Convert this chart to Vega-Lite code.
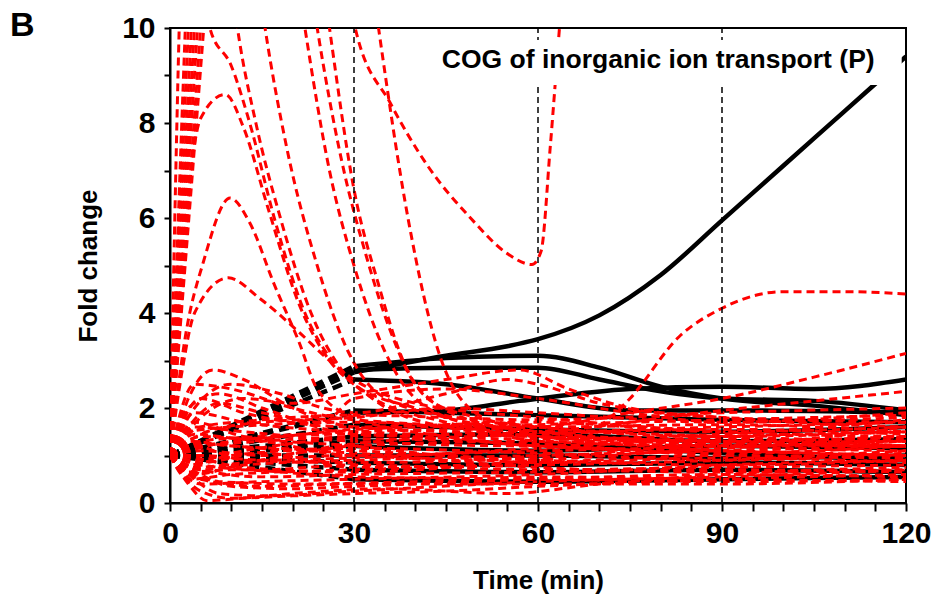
{
"$schema": "https://vega.github.io/schema/vega-lite/v6.json",
"width": 736, "height": 475,
"autosize": {"type": "none"},
"padding": {"left": 170, "top": 28, "right": 26, "bottom": 99},
"background": "white",
"config": {"view": {"stroke": "black", "strokeWidth": 2}, "font": "Liberation Sans",
 "axisX": {"values": [0,5,10,15,20,25,30,35,40,45,50,55,60,65,70,75,80,85,90,95,100,105,110,115,120],
    "labelExpr": "datum.value % 30 === 0 ? datum.label : ''", "labelOverlap": false, "labelFlush": false,
    "tickSize": 8, "grid": false, "domainColor": "black", "domainWidth": 2, "tickColor": "black", "tickWidth": 2,
    "labelFont": "Liberation Sans", "labelFontWeight": "bold", "labelFontSize": 30, "labelColor": "black", "labelPadding": 7,
    "titleFont": "Liberation Sans", "titleFontWeight": "bold", "titleFontSize": 26, "titleColor": "black", "titlePadding": 19},
 "axisY": {"values": [0,0.5,1,1.5,2,2.5,3,3.5,4,4.5,5,5.5,6,6.5,7,7.5,8,8.5,9,9.5,10], "format": "d",
    "labelExpr": "datum.value % 2 === 0 ? datum.label : ''", "labelOverlap": false, "labelFlush": false,
    "tickSize": 6, "grid": false, "domainColor": "black", "domainWidth": 2, "tickColor": "black", "tickWidth": 2,
    "labelFont": "Liberation Sans", "labelFontWeight": "bold", "labelFontSize": 30, "labelColor": "black", "labelPadding": 9,
    "titleFont": "Liberation Sans", "titleFontWeight": "bold", "titleFontSize": 26, "titleColor": "black", "titlePadding": 20}},
"datasets": {
"red": [
{"s":"r01","t":0,"v":1},{"s":"r01","t":1.5,"v":10},{"s":"r01","t":3,"v":16},{"s":"r01","t":6.5,"v":10},{"s":"r01","t":10,"v":9.2},{"s":"r01","t":13,"v":8.0},{"s":"r01","t":17,"v":6.0},{"s":"r01","t":22,"v":4.0},{"s":"r01","t":27,"v":2.9},{"s":"r01","t":32,"v":2.3},{"s":"r01","t":45,"v":1.7},{"s":"r01","t":60,"v":1.4},{"s":"r01","t":90,"v":1.3},{"s":"r01","t":120,"v":1.2},
{"s":"r02","t":0,"v":1},{"s":"r02","t":2.5,"v":10},{"s":"r02","t":5,"v":18},{"s":"r02","t":11,"v":10},{"s":"r02","t":14,"v":8.0},{"s":"r02","t":18,"v":6.0},{"s":"r02","t":23,"v":4.0},{"s":"r02","t":28,"v":2.8},{"s":"r02","t":33,"v":2.2},{"s":"r02","t":45,"v":1.6},{"s":"r02","t":60,"v":1.4},{"s":"r02","t":90,"v":1.25},{"s":"r02","t":120,"v":1.2},
{"s":"r03","t":0,"v":1},{"s":"r03","t":3,"v":10},{"s":"r03","t":7,"v":20},{"s":"r03","t":15.5,"v":10},{"s":"r03","t":19,"v":7.5},{"s":"r03","t":24,"v":5.0},{"s":"r03","t":29,"v":3.2},{"s":"r03","t":34,"v":2.3},{"s":"r03","t":45,"v":1.8},{"s":"r03","t":60,"v":1.5},{"s":"r03","t":90,"v":1.2},{"s":"r03","t":120,"v":1.1},
{"s":"r04","t":0,"v":1},{"s":"r04","t":3.5,"v":10},{"s":"r04","t":9,"v":24},{"s":"r04","t":22,"v":10},{"s":"r04","t":26,"v":7.0},{"s":"r04","t":30,"v":5.0},{"s":"r04","t":35,"v":3.2},{"s":"r04","t":40,"v":2.2},{"s":"r04","t":50,"v":1.6},{"s":"r04","t":60,"v":1.3},{"s":"r04","t":90,"v":1.2},{"s":"r04","t":120,"v":1.3},
{"s":"r05","t":0,"v":1},{"s":"r05","t":4,"v":10},{"s":"r05","t":11,"v":25},{"s":"r05","t":24,"v":10},{"s":"r05","t":28,"v":7.2},{"s":"r05","t":32,"v":5.2},{"s":"r05","t":36,"v":3.6},{"s":"r05","t":40,"v":2.5},{"s":"r05","t":50,"v":1.7},{"s":"r05","t":60,"v":1.5},{"s":"r05","t":90,"v":1.3},{"s":"r05","t":120,"v":1.4},
{"s":"r06","t":0,"v":1},{"s":"r06","t":4.5,"v":10},{"s":"r06","t":13,"v":25},{"s":"r06","t":26,"v":10},{"s":"r06","t":30,"v":6.6},{"s":"r06","t":34,"v":4.6},{"s":"r06","t":38,"v":3.0},{"s":"r06","t":42,"v":2.2},{"s":"r06","t":50,"v":1.8},{"s":"r06","t":60,"v":1.6},{"s":"r06","t":90,"v":1.4},{"s":"r06","t":120,"v":1.5},
{"s":"r07","t":0,"v":1},{"s":"r07","t":5,"v":10},{"s":"r07","t":15,"v":30},{"s":"r07","t":30.2,"v":10},{"s":"r07","t":36,"v":8.4},{"s":"r07","t":42,"v":7.1},{"s":"r07","t":49,"v":6.0},{"s":"r07","t":55,"v":5.25},{"s":"r07","t":59,"v":5.02},{"s":"r07","t":60.5,"v":5.3},{"s":"r07","t":62,"v":7.5},{"s":"r07","t":63.5,"v":10},{"s":"r07","t":66,"v":14},
{"s":"r08","t":0,"v":1},{"s":"r08","t":5.5,"v":10},{"s":"r08","t":17,"v":30},{"s":"r08","t":34,"v":10},{"s":"r08","t":38.8,"v":6.0},{"s":"r08","t":44,"v":3.1},{"s":"r08","t":48,"v":2.1},{"s":"r08","t":55,"v":1.6},{"s":"r08","t":60,"v":1.4},{"s":"r08","t":90,"v":1.2},{"s":"r08","t":120,"v":1.2},
{"s":"r09","t":0,"v":1},{"s":"r09","t":2,"v":5},{"s":"r09","t":5,"v":8.1},{"s":"r09","t":9,"v":8.6},{"s":"r09","t":12,"v":7.9},{"s":"r09","t":16,"v":6.2},{"s":"r09","t":21,"v":4.2},{"s":"r09","t":26,"v":3.0},{"s":"r09","t":30,"v":2.5},{"s":"r09","t":40,"v":2.0},{"s":"r09","t":60,"v":1.6},{"s":"r09","t":90,"v":1.4},{"s":"r09","t":120,"v":1.3},
{"s":"r10","t":0,"v":1},{"s":"r10","t":2.5,"v":3.5},{"s":"r10","t":5.5,"v":5.1},{"s":"r10","t":9.8,"v":6.42},{"s":"r10","t":13,"v":5.9},{"s":"r10","t":17,"v":4.6},{"s":"r10","t":21,"v":3.4},{"s":"r10","t":24,"v":2.4},{"s":"r10","t":30,"v":1.8},{"s":"r10","t":45,"v":1.4},{"s":"r10","t":60,"v":1.2},{"s":"r10","t":90,"v":1.1},{"s":"r10","t":120,"v":1.0},
{"s":"r11","t":0,"v":1},{"s":"r11","t":2,"v":2.8},{"s":"r11","t":4,"v":4.0},{"s":"r11","t":9.5,"v":4.74},{"s":"r11","t":14.7,"v":4.3},{"s":"r11","t":21,"v":3.6},{"s":"r11","t":26,"v":3.0},{"s":"r11","t":30,"v":2.6},{"s":"r11","t":40,"v":2.1},{"s":"r11","t":60,"v":1.8},{"s":"r11","t":90,"v":1.5},{"s":"r11","t":120,"v":1.4},
{"s":"r12","t":0,"v":1},{"s":"r12","t":3,"v":2.2},{"s":"r12","t":7,"v":2.8},{"s":"r12","t":12,"v":2.6},{"s":"r12","t":20,"v":2.0},{"s":"r12","t":30,"v":1.6},{"s":"r12","t":45,"v":1.5},{"s":"r12","t":60,"v":1.4},{"s":"r12","t":90,"v":1.3},{"s":"r12","t":120,"v":1.2},
{"s":"r13","t":0,"v":1},{"s":"r13","t":4,"v":2.0},{"s":"r13","t":10,"v":2.5},{"s":"r13","t":18,"v":2.3},{"s":"r13","t":25,"v":2.0},{"s":"r13","t":30,"v":1.9},{"s":"r13","t":45,"v":2.3},{"s":"r13","t":55,"v":2.6},{"s":"r13","t":60,"v":2.5},{"s":"r13","t":70,"v":2.1},{"s":"r13","t":90,"v":1.8},{"s":"r13","t":120,"v":1.7},
{"s":"r14","t":0,"v":1},{"s":"r14","t":5,"v":1.8},{"s":"r14","t":12,"v":2.2},{"s":"r14","t":20,"v":2.1},{"s":"r14","t":30,"v":2.3},{"s":"r14","t":45,"v":2.6},{"s":"r14","t":57,"v":2.8},{"s":"r14","t":65,"v":2.4},{"s":"r14","t":75,"v":2.0},{"s":"r14","t":90,"v":1.8},{"s":"r14","t":120,"v":1.6},
{"s":"r15","t":0,"v":1},{"s":"r15","t":3,"v":1.6},{"s":"r15","t":8,"v":2.1},{"s":"r15","t":15,"v":1.9},{"s":"r15","t":25,"v":1.7},{"s":"r15","t":30,"v":2.2},{"s":"r15","t":45,"v":2.4},{"s":"r15","t":60,"v":2.2},{"s":"r15","t":75,"v":1.9},{"s":"r15","t":90,"v":1.7},{"s":"r15","t":120,"v":1.9},
{"s":"r16","t":0,"v":1},{"s":"r16","t":6,"v":1.5},{"s":"r16","t":15,"v":1.7},{"s":"r16","t":30,"v":1.8},{"s":"r16","t":45,"v":2.0},{"s":"r16","t":60,"v":1.9},{"s":"r16","t":90,"v":1.7},{"s":"r16","t":120,"v":1.8},
{"s":"r17","t":0,"v":1},{"s":"r17","t":5,"v":0.7},{"s":"r17","t":15,"v":0.9},{"s":"r17","t":30,"v":1.0},{"s":"r17","t":45,"v":0.9},{"s":"r17","t":60,"v":1.0},{"s":"r17","t":66,"v":1.2},{"s":"r17","t":70,"v":1.6},{"s":"r17","t":75,"v":2.2},{"s":"r17","t":83,"v":3.5},{"s":"r17","t":90,"v":4.1},{"s":"r17","t":100,"v":4.45},{"s":"r17","t":110,"v":4.45},{"s":"r17","t":120,"v":4.4},
{"s":"r18","t":0,"v":1},{"s":"r18","t":5,"v":1.3},{"s":"r18","t":15,"v":1.4},{"s":"r18","t":30,"v":1.5},{"s":"r18","t":60,"v":1.6},{"s":"r18","t":75,"v":1.9},{"s":"r18","t":90,"v":2.2},{"s":"r18","t":105,"v":2.65},{"s":"r18","t":120,"v":3.15},
{"s":"r19","t":0,"v":1},{"s":"r19","t":5,"v":1.2},{"s":"r19","t":15,"v":1.3},{"s":"r19","t":30,"v":1.4},{"s":"r19","t":60,"v":1.5},{"s":"r19","t":90,"v":1.95},{"s":"r19","t":105,"v":2.15},{"s":"r19","t":120,"v":2.35},
{"s":"r20","t":0,"v":1},{"s":"r20","t":3,"v":0.4},{"s":"r20","t":6,"v":0.05},{"s":"r20","t":12,"v":0.1},{"s":"r20","t":20,"v":0.15},{"s":"r20","t":30,"v":0.2},{"s":"r20","t":45,"v":0.25},{"s":"r20","t":60,"v":0.35},{"s":"r20","t":90,"v":0.5},{"s":"r20","t":120,"v":0.6},
{"s":"r21","t":0,"v":1},{"s":"r21","t":4,"v":0.5},{"s":"r21","t":8,"v":0.2},{"s":"r21","t":15,"v":0.15},{"s":"r21","t":30,"v":0.25},{"s":"r21","t":60,"v":0.45},{"s":"r21","t":90,"v":0.55},{"s":"r21","t":120,"v":0.7},
{"s":"r22","t":0,"v":1},{"s":"r22","t":5,"v":0.6},{"s":"r22","t":10,"v":0.35},{"s":"r22","t":20,"v":0.3},{"s":"r22","t":30,"v":0.35},{"s":"r22","t":60,"v":0.5},{"s":"r22","t":90,"v":0.6},{"s":"r22","t":120,"v":0.55},
{"s":"r23","t":0,"v":1},{"s":"r23","t":3,"v":0.7},{"s":"r23","t":8,"v":0.45},{"s":"r23","t":20,"v":0.4},{"s":"r23","t":40,"v":0.45},{"s":"r23","t":60,"v":0.55},{"s":"r23","t":90,"v":0.5},{"s":"r23","t":120,"v":0.45},
{"s":"r24","t":0,"v":1},{"s":"r24","t":2,"v":0.6},{"s":"r24","t":5,"v":0.25},{"s":"r24","t":10,"v":0.1},{"s":"r24","t":20,"v":0.2},{"s":"r24","t":35,"v":0.3},{"s":"r24","t":55,"v":0.2},{"s":"r24","t":70,"v":0.4},{"s":"r24","t":90,"v":0.6},{"s":"r24","t":120,"v":0.75},
{"s":"r25","t":0,"v":1},{"s":"r25","t":4,"v":1.6},{"s":"r25","t":12,"v":1.5},{"s":"r25","t":30,"v":1.3},{"s":"r25","t":60,"v":1.2},{"s":"r25","t":90,"v":1.4},{"s":"r25","t":120,"v":1.5},
{"s":"r26","t":0,"v":1},{"s":"r26","t":4,"v":0.6},{"s":"r26","t":12,"v":0.8},{"s":"r26","t":30,"v":0.9},{"s":"r26","t":60,"v":1.0},{"s":"r26","t":90,"v":1.1},{"s":"r26","t":120,"v":1.2},
{"s":"r27","t":0,"v":1},{"s":"r27","t":3,"v":1.3},{"s":"r27","t":10,"v":1.2},{"s":"r27","t":30,"v":1.1},{"s":"r27","t":60,"v":0.9},{"s":"r27","t":90,"v":0.8},{"s":"r27","t":120,"v":0.9},
{"s":"r28","t":0,"v":1},{"s":"r28","t":5,"v":0.8},{"s":"r28","t":15,"v":0.7},{"s":"r28","t":30,"v":0.8},{"s":"r28","t":60,"v":0.7},{"s":"r28","t":90,"v":0.75},{"s":"r28","t":120,"v":0.8},
{"s":"r29","t":0,"v":1},{"s":"r29","t":4,"v":1.9},{"s":"r29","t":12,"v":1.7},{"s":"r29","t":30,"v":1.5},{"s":"r29","t":60,"v":1.4},{"s":"r29","t":90,"v":1.3},{"s":"r29","t":120,"v":1.4},
{"s":"r30","t":0,"v":1},{"s":"r30","t":5,"v":1.1},{"s":"r30","t":15,"v":1.0},{"s":"r30","t":30,"v":1.2},{"s":"r30","t":60,"v":1.3},{"s":"r30","t":90,"v":1.1},{"s":"r30","t":120,"v":1.0},
{"s":"r31","t":0,"v":1},{"s":"r31","t":3,"v":0.5},{"s":"r31","t":10,"v":0.6},{"s":"r31","t":30,"v":0.7},{"s":"r31","t":60,"v":0.8},{"s":"r31","t":90,"v":0.9},{"s":"r31","t":120,"v":1.1},
{"s":"r32","t":0,"v":1},{"s":"r32","t":5,"v":1.4},{"s":"r32","t":15,"v":1.3},{"s":"r32","t":30,"v":1.0},{"s":"r32","t":60,"v":1.1},{"s":"r32","t":90,"v":1.2},{"s":"r32","t":120,"v":1.6},
{"s":"r33","t":0,"v":1},{"s":"r33","t":4,"v":0.9},{"s":"r33","t":12,"v":1.1},{"s":"r33","t":30,"v":1.35},{"s":"r33","t":60,"v":1.25},{"s":"r33","t":90,"v":1.0},{"s":"r33","t":120,"v":0.95},
{"s":"r34","t":0,"v":1},{"s":"r34","t":3,"v":1.5},{"s":"r34","t":10,"v":1.6},{"s":"r34","t":30,"v":1.7},{"s":"r34","t":60,"v":1.5},{"s":"r34","t":90,"v":1.6},{"s":"r34","t":120,"v":1.7},
{"s":"r35","t":0,"v":1},{"s":"r35","t":5,"v":0.7},{"s":"r35","t":15,"v":0.55},{"s":"r35","t":30,"v":0.6},{"s":"r35","t":60,"v":0.65},{"s":"r35","t":90,"v":0.7},{"s":"r35","t":120,"v":0.65},
{"s":"r36","t":0,"v":1},{"s":"r36","t":4,"v":1.2},{"s":"r36","t":12,"v":0.9},{"s":"r36","t":30,"v":0.85},{"s":"r36","t":60,"v":0.95},{"s":"r36","t":90,"v":1.25},{"s":"r36","t":120,"v":1.3},
{"s":"r37","t":0,"v":1},{"s":"r37","t":5,"v":2.2},{"s":"r37","t":12,"v":1.9},{"s":"r37","t":30,"v":1.6},{"s":"r37","t":60,"v":1.7},{"s":"r37","t":90,"v":1.5},{"s":"r37","t":120,"v":1.6},
{"s":"r38","t":0,"v":1},{"s":"r38","t":3,"v":0.8},{"s":"r38","t":10,"v":1.0},{"s":"r38","t":30,"v":1.15},{"s":"r38","t":60,"v":1.05},{"s":"r38","t":90,"v":0.9},{"s":"r38","t":120,"v":1.05},
{"s":"r39","t":0,"v":1},{"s":"r39","t":5,"v":1.0},{"s":"r39","t":15,"v":0.9},{"s":"r39","t":30,"v":0.95},{"s":"r39","t":60,"v":1.15},{"s":"r39","t":90,"v":1.35},{"s":"r39","t":120,"v":1.2},
{"s":"r40","t":0,"v":1},{"s":"r40","t":4,"v":1.7},{"s":"r40","t":12,"v":1.4},{"s":"r40","t":30,"v":1.2},{"s":"r40","t":60,"v":0.85},{"s":"r40","t":90,"v":0.95},{"s":"r40","t":120,"v":0.85},
{"s":"r41","t":0,"v":1},{"s":"r41","t":5,"v":0.4},{"s":"r41","t":15,"v":0.45},{"s":"r41","t":30,"v":0.5},{"s":"r41","t":60,"v":0.6},{"s":"r41","t":90,"v":0.8},{"s":"r41","t":120,"v":0.9},
{"s":"r42","t":0,"v":1},{"s":"r42","t":3,"v":2.0},{"s":"r42","t":8,"v":2.3},{"s":"r42","t":15,"v":2.0},{"s":"r42","t":30,"v":1.45},{"s":"r42","t":60,"v":1.35},{"s":"r42","t":90,"v":1.45},{"s":"r42","t":120,"v":1.75},
{"s":"r43","t":0,"v":1},{"s":"r43","t":5,"v":1.25},{"s":"r43","t":15,"v":1.15},{"s":"r43","t":30,"v":1.05},{"s":"r43","t":60,"v":0.75},{"s":"r43","t":90,"v":0.65},{"s":"r43","t":120,"v":0.7},
{"s":"r44","t":0,"v":1},{"s":"r44","t":4,"v":0.75},{"s":"r44","t":12,"v":0.85},{"s":"r44","t":30,"v":1.25},{"s":"r44","t":60,"v":1.45},{"s":"r44","t":90,"v":1.55},{"s":"r44","t":120,"v":1.45},
{"s":"r45","t":0,"v":1},{"s":"r45","t":4,"v":1.45},{"s":"r45","t":12,"v":1.35},{"s":"r45","t":30,"v":1.55},{"s":"r45","t":60,"v":1.65},{"s":"r45","t":90,"v":1.75},{"s":"r45","t":120,"v":1.85},
{"s":"r46","t":0,"v":1},{"s":"r46","t":3,"v":0.65},{"s":"r46","t":10,"v":0.7},{"s":"r46","t":30,"v":0.55},{"s":"r46","t":60,"v":0.5},{"s":"r46","t":90,"v":0.45},{"s":"r46","t":120,"v":0.5},
{"s":"r47","t":0,"v":1},{"s":"r47","t":5,"v":1.6},{"s":"r47","t":15,"v":1.75},{"s":"r47","t":30,"v":1.85},{"s":"r47","t":60,"v":1.75},{"s":"r47","t":90,"v":1.9},{"s":"r47","t":120,"v":2.0},
{"s":"r48","t":0,"v":1},{"s":"r48","t":4,"v":0.95},{"s":"r48","t":12,"v":0.75},{"s":"r48","t":30,"v":0.65},{"s":"r48","t":60,"v":0.9},{"s":"r48","t":90,"v":1.15},{"s":"r48","t":120,"v":1.35},
{"s":"r49","t":0,"v":1},{"s":"r49","t":3,"v":1.1},{"s":"r49","t":10,"v":1.3},{"s":"r49","t":30,"v":1.45},{"s":"r49","t":60,"v":1.2},{"s":"r49","t":90,"v":1.05},{"s":"r49","t":120,"v":1.2},
{"s":"r50","t":0,"v":1},{"s":"r50","t":5,"v":0.5},{"s":"r50","t":15,"v":0.35},{"s":"r50","t":30,"v":0.4},{"s":"r50","t":60,"v":0.4},{"s":"r50","t":90,"v":0.4},{"s":"r50","t":120,"v":0.5},
{"s":"r51","t":0,"v":1},{"s":"r51","t":4,"v":2.5},{"s":"r51","t":10,"v":2.4},{"s":"r51","t":20,"v":2.0},{"s":"r51","t":30,"v":1.75},{"s":"r51","t":60,"v":1.6},{"s":"r51","t":90,"v":1.65},{"s":"r51","t":120,"v":1.5},
{"s":"r52","t":0,"v":1},{"s":"r52","t":5,"v":0.85},{"s":"r52","t":15,"v":1.05},{"s":"r52","t":30,"v":0.75},{"s":"r52","t":60,"v":0.85},{"s":"r52","t":90,"v":1.0},{"s":"r52","t":120,"v":0.95}
],
"black": [
{"s":"k01","t":0,"v":1},{"s":"k01","t":30,"v":2.75},{"s":"k01","t":45,"v":3.1},{"s":"k01","t":55,"v":3.3},{"s":"k01","t":60,"v":3.45},{"s":"k01","t":70,"v":3.95},{"s":"k01","t":80,"v":4.8},{"s":"k01","t":90,"v":5.95},{"s":"k01","t":100,"v":7.1},{"s":"k01","t":110,"v":8.25},{"s":"k01","t":120,"v":9.4},
{"s":"k02","t":0,"v":1},{"s":"k02","t":30,"v":2.88},{"s":"k02","t":45,"v":3.05},{"s":"k02","t":60,"v":3.1},{"s":"k02","t":70,"v":2.85},{"s":"k02","t":80,"v":2.45},{"s":"k02","t":90,"v":2.2},{"s":"k02","t":105,"v":2.05},{"s":"k02","t":120,"v":1.85},
{"s":"k03","t":0,"v":1},{"s":"k03","t":30,"v":2.8},{"s":"k03","t":45,"v":2.85},{"s":"k03","t":60,"v":2.85},{"s":"k03","t":70,"v":2.6},{"s":"k03","t":80,"v":2.35},{"s":"k03","t":90,"v":2.2},{"s":"k03","t":105,"v":2.15},{"s":"k03","t":120,"v":1.95},
{"s":"k04","t":0,"v":1},{"s":"k04","t":30,"v":2.6},{"s":"k04","t":45,"v":2.5},{"s":"k04","t":60,"v":2.2},{"s":"k04","t":75,"v":1.95},{"s":"k04","t":90,"v":1.95},{"s":"k04","t":120,"v":1.9},
{"s":"k05","t":0,"v":1},{"s":"k05","t":30,"v":1.9},{"s":"k05","t":45,"v":1.95},{"s":"k05","t":57,"v":2.15},{"s":"k05","t":75,"v":2.4},{"s":"k05","t":90,"v":2.45},{"s":"k05","t":105,"v":2.4},{"s":"k05","t":120,"v":2.6},
{"s":"k06","t":0,"v":1},{"s":"k06","t":30,"v":1.95},{"s":"k06","t":60,"v":1.85},{"s":"k06","t":90,"v":1.75},{"s":"k06","t":120,"v":1.7},
{"s":"k07","t":0,"v":1},{"s":"k07","t":30,"v":1.65},{"s":"k07","t":60,"v":1.55},{"s":"k07","t":90,"v":1.5},{"s":"k07","t":120,"v":1.6},
{"s":"k08","t":0,"v":1},{"s":"k08","t":30,"v":1.4},{"s":"k08","t":60,"v":1.45},{"s":"k08","t":90,"v":1.3},{"s":"k08","t":120,"v":1.35},
{"s":"k09","t":0,"v":1},{"s":"k09","t":30,"v":1.2},{"s":"k09","t":60,"v":1.1},{"s":"k09","t":90,"v":1.2},{"s":"k09","t":120,"v":1.15},
{"s":"k10","t":0,"v":1},{"s":"k10","t":30,"v":1.0},{"s":"k10","t":60,"v":1.0},{"s":"k10","t":90,"v":0.95},{"s":"k10","t":120,"v":1.0},
{"s":"k11","t":0,"v":1},{"s":"k11","t":30,"v":0.85},{"s":"k11","t":60,"v":0.8},{"s":"k11","t":90,"v":0.85},{"s":"k11","t":120,"v":0.8},
{"s":"k12","t":0,"v":1},{"s":"k12","t":30,"v":0.7},{"s":"k12","t":60,"v":0.65},{"s":"k12","t":90,"v":0.7},{"s":"k12","t":120,"v":0.65},
{"s":"k13","t":0,"v":1},{"s":"k13","t":30,"v":0.5},{"s":"k13","t":60,"v":0.45},{"s":"k13","t":90,"v":0.5},{"s":"k13","t":120,"v":0.55},
{"s":"k14","t":0,"v":1},{"s":"k14","t":30,"v":1.3},{"s":"k14","t":60,"v":1.25},{"s":"k14","t":90,"v":1.05},{"s":"k14","t":120,"v":0.9}
]
},
"layer": [
{"data": {"name": "black"}, "transform": [{"filter": "datum.t <= 30"}],
 "mark": {"type": "line", "stroke": "black", "strokeWidth": 4.5, "strokeDash": [10, 6], "clip": true},
 "encoding": {
  "x": {"field": "t", "type": "quantitative", "scale": {"domain": [0, 120], "nice": false, "zero": false}, "title": "Time (min)"},
  "y": {"field": "v", "type": "quantitative", "scale": {"domain": [0, 10], "nice": false, "zero": false}, "title": "Fold change"},
  "detail": {"field": "s"}}},
{"data": {"name": "black"}, "transform": [{"filter": "datum.t >= 30"}],
 "mark": {"type": "line", "stroke": "black", "strokeWidth": 4.5, "interpolate": "monotone", "clip": true},
 "encoding": {
  "x": {"field": "t", "type": "quantitative", "scale": {"domain": [0, 120], "nice": false, "zero": false}, "title": "Time (min)"},
  "y": {"field": "v", "type": "quantitative", "scale": {"domain": [0, 10], "nice": false, "zero": false}, "title": "Fold change"},
  "detail": {"field": "s"}}},
{"data": {"name": "red"},
 "mark": {"type": "line", "stroke": "#ff0000", "strokeWidth": 3, "strokeDash": [8, 5], "interpolate": "monotone", "clip": true},
 "encoding": {
  "x": {"field": "t", "type": "quantitative", "scale": {"domain": [0, 120], "nice": false, "zero": false}, "title": "Time (min)"},
  "y": {"field": "v", "type": "quantitative", "scale": {"domain": [0, 10], "nice": false, "zero": false}, "title": "Fold change"},
  "detail": {"field": "s"}}},
{"data": {"values": [{"t": 30}, {"t": 60}, {"t": 90}]},
 "mark": {"type": "rule", "stroke": "black", "strokeWidth": 1.5, "strokeDash": [6, 4]},
 "encoding": {
  "x": {"field": "t", "type": "quantitative", "scale": {"domain": [0, 120], "nice": false, "zero": false}, "title": "Time (min)"},
  "y": {"datum": 0, "type": "quantitative", "title": "Fold change"}, "y2": {"datum": 10}}},
{"data": {"values": [{"a": 1}]},
 "mark": {"type": "rect", "fill": "white", "strokeWidth": 0},
 "encoding": {
  "x": {"datum": 43, "type": "quantitative", "title": "Time (min)"}, "x2": {"datum": 119.3},
  "y": {"datum": 8.8, "type": "quantitative", "title": "Fold change"}, "y2": {"datum": 9.75}}},
{"data": {"values": [{"label": "COG of inorganic ion transport (P)"}]},
 "mark": {"type": "text", "font": "Liberation Sans", "fontWeight": "bold", "fontSize": 26.5, "color": "black", "align": "center", "baseline": "middle"},
 "encoding": {
  "x": {"datum": 79.6, "type": "quantitative", "title": "Time (min)"},
  "y": {"datum": 9.33, "type": "quantitative", "title": "Fold change"},
  "text": {"field": "label"}}},
{"data": {"values": [{"label": "B"}]},
 "mark": {"type": "text", "font": "Liberation Sans", "fontWeight": "bold", "fontSize": 34, "color": "black", "align": "center", "baseline": "middle", "clip": false},
 "encoding": {
  "x": {"datum": -24.1, "type": "quantitative", "title": "Time (min)"},
  "y": {"datum": 10.05, "type": "quantitative", "title": "Fold change"},
  "text": {"field": "label"}}}
]
}
